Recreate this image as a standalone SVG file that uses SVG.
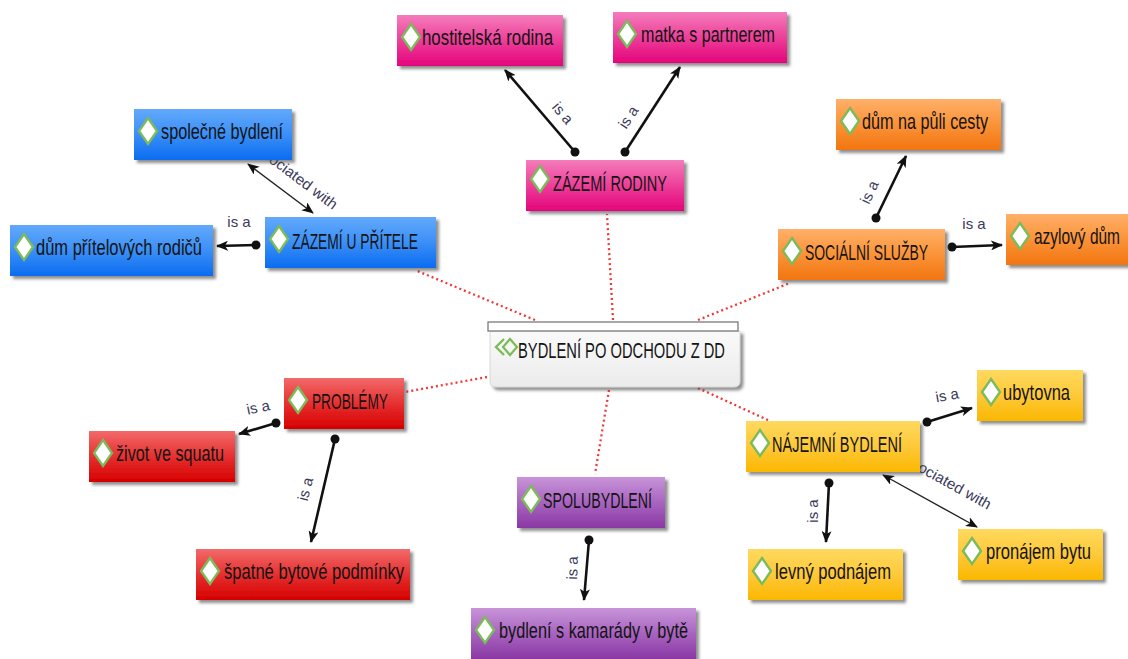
<svg xmlns="http://www.w3.org/2000/svg" width="1128" height="659" viewBox="0 0 1128 659">
  <defs>
    <linearGradient id="g-pink" x1="0" y1="0" x2="0" y2="1">
      <stop offset="0" stop-color="#f47cbb"/>
      <stop offset="0.5" stop-color="#ed3f99"/>
      <stop offset="1" stop-color="#e4047c"/>
    </linearGradient>
    <linearGradient id="g-blue" x1="0" y1="0" x2="0" y2="1">
      <stop offset="0" stop-color="#62a9fb"/>
      <stop offset="0.5" stop-color="#3b8ff7"/>
      <stop offset="1" stop-color="#0b6cf0"/>
    </linearGradient>
    <linearGradient id="g-orange" x1="0" y1="0" x2="0" y2="1">
      <stop offset="0" stop-color="#ffb06a"/>
      <stop offset="0.5" stop-color="#fa9338"/>
      <stop offset="1" stop-color="#f27510"/>
    </linearGradient>
    <linearGradient id="g-red" x1="0" y1="0" x2="0" y2="1">
      <stop offset="0" stop-color="#f26a6a"/>
      <stop offset="0.5" stop-color="#e63030"/>
      <stop offset="1" stop-color="#d60000"/>
    </linearGradient>
    <linearGradient id="g-purple" x1="0" y1="0" x2="0" y2="1">
      <stop offset="0" stop-color="#c894d8"/>
      <stop offset="0.5" stop-color="#a864c0"/>
      <stop offset="1" stop-color="#8a38a4"/>
    </linearGradient>
    <linearGradient id="g-yellow" x1="0" y1="0" x2="0" y2="1">
      <stop offset="0" stop-color="#ffd95e"/>
      <stop offset="0.5" stop-color="#fec93a"/>
      <stop offset="1" stop-color="#fbb700"/>
    </linearGradient>
    <linearGradient id="g-center" x1="0" y1="0" x2="0" y2="1">
      <stop offset="0" stop-color="#fafafa"/>
      <stop offset="1" stop-color="#ebebeb"/>
    </linearGradient>
    <filter id="shadow" x="-10%" y="-20%" width="130%" height="160%">
      <feDropShadow dx="3" dy="3" stdDeviation="1.6" flood-color="#444" flood-opacity="0.6"/>
    </filter>
    <marker id="arrow" viewBox="0 0 12 10" refX="11" refY="5" markerWidth="12" markerHeight="10" markerUnits="userSpaceOnUse" orient="auto-start-reverse">
      <path d="M0,0 L12,5 L0,10 L3,5 Z" fill="#111"/>
    </marker>
    <marker id="dot" viewBox="0 0 10 10" refX="5" refY="5" markerWidth="10" markerHeight="10" markerUnits="userSpaceOnUse">
      <circle cx="5" cy="5" r="4.5" fill="#111"/>
    </marker>
    <path id="dia" d="M9,0 L18,13 L9,26 L0,13 Z" fill="#fff" stroke="#7cbb5a" stroke-width="2.4" stroke-linejoin="miter"/>
    <style>
      .box { filter: url(#shadow); }
      .pink { fill: url(#g-pink); }
      .blue { fill: url(#g-blue); }
      .orange { fill: url(#g-orange); }
      .red { fill: url(#g-red); }
      .purple { fill: url(#g-purple); }
      .yellow { fill: url(#g-yellow); }
      .lbl { font-family: "Liberation Sans Narrow", "Liberation Sans", Arial, sans-serif; font-size: 22px; fill: #141414; }
      .isa { stroke: #111; stroke-width: 2.6; fill: none; marker-start: url(#dot); marker-end: url(#arrow); }
      .assoc { stroke: #222; stroke-width: 1.4; fill: none; marker-start: url(#arrow); marker-end: url(#arrow); }
      .tie { stroke: #f03a3a; stroke-width: 2.3; stroke-dasharray: 2 3; fill: none; }
      .rel { font-family: "Liberation Sans Narrow", "Liberation Sans", Arial, sans-serif; font-size: 15px; fill: #3a3a5a; }
    </style>
  </defs>

  <rect width="1128" height="659" fill="#fff"/>

  <!-- connectors -->
  <g id="connectors">
    <!-- dotted ties from the central topic -->
    <path class="tie" d="M613,320 L607,214"/>
    <path class="tie" d="M535,320 L415,270"/>
    <path class="tie" d="M698,320 L790,283"/>
    <path class="tie" d="M487,377 L405,392"/>
    <path class="tie" d="M609,390 L595,474"/>
    <path class="tie" d="M698,388 L770,421"/>

    <!-- "is a" links -->
    <path class="isa" d="M575,152 L505,70"/>
    <path class="isa" d="M625,152 L680,67"/>
    <path class="isa" d="M256,245 L217,246"/>
    <path class="isa" d="M876,218 L906,156"/>
    <path class="isa" d="M952,247 L1002,245"/>
    <path class="isa" d="M276,423 L239,434"/>
    <path class="isa" d="M335,439 L311,542"/>
    <path class="isa" d="M589,540 L584,600"/>
    <path class="isa" d="M927,422 L972,408"/>
    <path class="isa" d="M829,483 L826,542"/>

    <!-- "associated with" links -->
    <path class="assoc" d="M248,164 L313,213"/>
    <path class="assoc" d="M883,475 L977,527"/>

    <!-- link labels -->
    <text class="rel" text-anchor="middle" dominant-baseline="central" transform="translate(563,113) rotate(50)">is a</text>
    <text class="rel" text-anchor="middle" dominant-baseline="central" transform="translate(628,117) rotate(-57)">is a</text>
    <text class="rel" text-anchor="middle" dominant-baseline="central" transform="translate(239,221)">is a</text>
    <text class="rel" text-anchor="middle" dominant-baseline="central" transform="translate(869,192) rotate(-65)">is a</text>
    <text class="rel" text-anchor="middle" dominant-baseline="central" transform="translate(974,223)">is a</text>
    <text class="rel" text-anchor="middle" dominant-baseline="central" transform="translate(258,407) rotate(-12)">is a</text>
    <text class="rel" text-anchor="middle" dominant-baseline="central" transform="translate(305,489) rotate(-76)">is a</text>
    <text class="rel" text-anchor="middle" dominant-baseline="central" transform="translate(572,568) rotate(-88)">is a</text>
    <text class="rel" text-anchor="middle" dominant-baseline="central" transform="translate(947,395) rotate(-10)">is a</text>
    <text class="rel" text-anchor="middle" dominant-baseline="central" transform="translate(812,511) rotate(-90)">is a</text>
    <text class="rel" font-size="16" transform="translate(249,147) rotate(37)" textLength="105" lengthAdjust="spacingAndGlyphs">associated with</text>
    <text class="rel" font-size="16" transform="translate(896,459) rotate(29)" textLength="105" lengthAdjust="spacingAndGlyphs">associated with</text>
  </g>

  <!-- central topic -->
  <g id="n-center">
    <path d="M490,331 H740 V381 Q740,387 734,387 H496 Q490,387 490,381 Z" fill="url(#g-center)" class="box" stroke="#d0d0d0" stroke-width="0.8"/>
    <rect x="488" y="322" width="250" height="9" fill="#fff" stroke="#7a7a7a" stroke-width="1.3"/>
    <path d="M504,339 L496,347 L504,355" fill="none" stroke="#7cbb5a" stroke-width="2.4"/>
    <path d="M510,339 L517,347 L510,355 L503,347 Z" fill="#f4f8f0" stroke="#7cbb5a" stroke-width="2.2"/>
    <text class="lbl" x="518" y="358" font-size="23" textLength="207" lengthAdjust="spacingAndGlyphs">BYDLENÍ PO ODCHODU Z DD</text>
  </g>

  <!-- ZÁZEMÍ RODINY branch -->
  <g id="n-hostitelska">
    <rect class="box pink" x="397" y="15" width="166" height="51"/>
    <use href="#dia" x="402" y="24"/>
    <text class="lbl" x="422" y="45" textLength="131" lengthAdjust="spacingAndGlyphs">hostitelská rodina</text>
  </g>
  <g id="n-matka">
    <rect class="box pink" x="613" y="12" width="174" height="51"/>
    <use href="#dia" x="618" y="21"/>
    <text class="lbl" x="641" y="42" textLength="134" lengthAdjust="spacingAndGlyphs">matka s partnerem</text>
  </g>
  <g id="n-rodiny">
    <rect class="box pink" x="526" y="160" width="158" height="51"/>
    <use href="#dia" x="531" y="166"/>
    <text class="lbl" x="553" y="191" textLength="114" lengthAdjust="spacingAndGlyphs">ZÁZEMÍ RODINY</text>
  </g>

  <!-- ZÁZEMÍ U PŘÍTELE branch -->
  <g id="n-spolecne">
    <rect class="box blue" x="134" y="109" width="158" height="51"/>
    <use href="#dia" x="139" y="118"/>
    <text class="lbl" x="161" y="139" textLength="122" lengthAdjust="spacingAndGlyphs">společné bydlení</text>
  </g>
  <g id="n-pritel">
    <rect class="box blue" x="265" y="217" width="171" height="51"/>
    <use href="#dia" x="270" y="226"/>
    <text class="lbl" x="292" y="249" textLength="126" lengthAdjust="spacingAndGlyphs">ZÁZEMÍ U PŘÍTELE</text>
  </g>
  <g id="n-rodicu">
    <rect class="box blue" x="10" y="225" width="203" height="51"/>
    <use href="#dia" x="15" y="234"/>
    <text class="lbl" x="36" y="255" textLength="166" lengthAdjust="spacingAndGlyphs">dům přítelových rodičů</text>
  </g>

  <!-- SOCIÁLNÍ SLUŽBY branch -->
  <g id="n-pulcesty">
    <rect class="box orange" x="836" y="99" width="165" height="51"/>
    <use href="#dia" x="841" y="108"/>
    <text class="lbl" x="862" y="129" textLength="126" lengthAdjust="spacingAndGlyphs">dům na půli cesty</text>
  </g>
  <g id="n-socialni">
    <rect class="box orange" x="778" y="229" width="167" height="51"/>
    <use href="#dia" x="783" y="238"/>
    <text class="lbl" x="805" y="260" textLength="123" lengthAdjust="spacingAndGlyphs">SOCIÁLNÍ SLUŽBY</text>
  </g>
  <g id="n-azylovy">
    <rect class="box orange" x="1006" y="214" width="122" height="51"/>
    <use href="#dia" x="1011" y="223"/>
    <text class="lbl" x="1034" y="244" textLength="86" lengthAdjust="spacingAndGlyphs">azylový dům</text>
  </g>

  <!-- PROBLÉMY branch -->
  <g id="n-problemy">
    <rect class="box red" x="284" y="378" width="120" height="51"/>
    <use href="#dia" x="289" y="387"/>
    <text class="lbl" x="312" y="409" textLength="76" lengthAdjust="spacingAndGlyphs">PROBLÉMY</text>
  </g>
  <g id="n-squat">
    <rect class="box red" x="89" y="431" width="146" height="51"/>
    <use href="#dia" x="94" y="440"/>
    <text class="lbl" x="116" y="461" textLength="108" lengthAdjust="spacingAndGlyphs">život ve squatu</text>
  </g>
  <g id="n-spatne">
    <rect class="box red" x="196" y="549" width="214" height="51"/>
    <use href="#dia" x="201" y="558"/>
    <text class="lbl" x="224" y="579" textLength="180" lengthAdjust="spacingAndGlyphs">špatné bytové podmínky</text>
  </g>

  <!-- SPOLUBYDLENÍ branch -->
  <g id="n-spolu">
    <rect class="box purple" x="517" y="477" width="148" height="51"/>
    <use href="#dia" x="522" y="486"/>
    <text class="lbl" x="543" y="508" textLength="109" lengthAdjust="spacingAndGlyphs">SPOLUBYDLENÍ</text>
  </g>
  <g id="n-kamarady">
    <rect class="box purple" x="471" y="608" width="225" height="51"/>
    <use href="#dia" x="476" y="617"/>
    <text class="lbl" x="499" y="638" textLength="189" lengthAdjust="spacingAndGlyphs">bydlení s kamarády v bytě</text>
  </g>

  <!-- NÁJEMNÍ BYDLENÍ branch -->
  <g id="n-najemni">
    <rect class="box yellow" x="746" y="421" width="174" height="51"/>
    <use href="#dia" x="751" y="430"/>
    <text class="lbl" x="772" y="452" textLength="130" lengthAdjust="spacingAndGlyphs">NÁJEMNÍ BYDLENÍ</text>
  </g>
  <g id="n-ubytovna">
    <rect class="box yellow" x="977" y="370" width="106" height="51"/>
    <use href="#dia" x="982" y="379"/>
    <text class="lbl" x="1003" y="400" textLength="67" lengthAdjust="spacingAndGlyphs">ubytovna</text>
  </g>
  <g id="n-levny">
    <rect class="box yellow" x="748" y="549" width="155" height="51"/>
    <use href="#dia" x="753" y="558"/>
    <text class="lbl" x="775" y="579" textLength="116" lengthAdjust="spacingAndGlyphs">levný podnájem</text>
  </g>
  <g id="n-pronajem">
    <rect class="box yellow" x="958" y="529" width="145" height="51"/>
    <use href="#dia" x="963" y="538"/>
    <text class="lbl" x="986" y="559" textLength="105" lengthAdjust="spacingAndGlyphs">pronájem bytu</text>
  </g>
</svg>
